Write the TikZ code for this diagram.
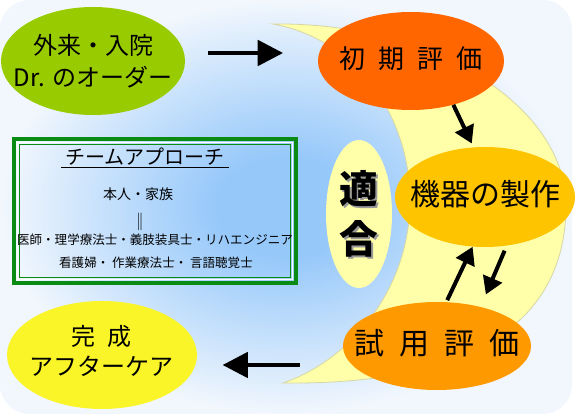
\documentclass[tikz,border=0pt]{standalone}
\usepackage{fontspec}
\setmainfont{Noto Sans CJK JP}
\usepackage{tikz}
\usetikzlibrary{shapes.geometric,arrows.meta,calc}

\definecolor{bgin}{RGB}{150,200,250}
\definecolor{bgout}{RGB}{242,247,253}
\definecolor{moonfill}{RGB}{255,255,170}
\definecolor{moonline}{RGB}{215,215,165}
\definecolor{leafgreen}{RGB}{153,204,0}
\definecolor{redorange}{RGB}{255,102,0}
\definecolor{gold}{RGB}{255,196,0}
\definecolor{deeporange}{RGB}{255,153,0}
\definecolor{lemon}{RGB}{250,245,40}
\definecolor{teamgreen}{RGB}{10,140,20}

\pgfdeclareradialshading{bgglow}{\pgfpoint{0bp}{0bp}}{color(0bp)=(bgin); color(6bp)=(bgin); color(25bp)=(bgout); color(50bp)=(bgout)}

\begin{document}
\begin{tikzpicture}[x=0.75pt,y=-0.75pt,
    oval/.style={ellipse, inner sep=0pt},
    bigarrow/.style={line width=3pt, -{Triangle[length=19pt,width=19pt]}},
    smallarrow/.style={line width=3pt, -{Triangle[length=13pt,width=15pt]}}]
    \useasboundingbox (0,0) rectangle (579,416);
    \fill[white] (0,0) rectangle (579,416);
    \shade[shading=bgglow, rounded corners=22pt] (0,0) rectangle (572,414);

    % crescent
    \filldraw[fill=moonfill, draw=moonline, line width=0.6pt] (273,24)
        .. controls (440,22) and (566,110) .. (566,205)
        .. controls (566,330) and (460,385) .. (283,383)
        .. controls (350,360) and (410,290) .. (410,200)
        .. controls (410,120) and (360,40) .. cycle;

    \node[oval, fill=leafgreen, minimum width=138pt, minimum height=81pt] (gairai) at (93,61) {};
    \node[oval, fill=redorange, minimum width=139.5pt, minimum height=73.5pt] (shoki) at (411,61) {};
    \node[oval, fill=gold, minimum width=135pt, minimum height=75pt] (kiki) at (485,197) {};
    \node[oval, fill=deeporange, minimum width=141pt, minimum height=66pt] (shiyou) at (437,346) {};
    \node[oval, fill=lemon, minimum width=142.5pt, minimum height=81pt] (kansei) at (102,355) {};
    \node[oval, fill=moonfill, minimum width=49.5pt, minimum height=111pt] (tekigou) at (359,214) {};

    \node[align=center, font=\fontsize{18pt}{24pt}\selectfont] (gairaitext) at (gairai.center) {外来・入院\\Dr. のオーダー};
    \node[font=\fontsize{19.5pt}{24pt}\selectfont] (shokitext) at ([yshift=2pt]shoki.center) {初\enspace 期\enspace 評\enspace 価};
    \node[font=\fontsize{22.5pt}{26pt}\selectfont] (kikitext) at ([yshift=2pt]kiki.center) {機器の製作};
    \node[font=\fontsize{22.5pt}{26pt}\selectfont] (shiyoutext) at ([yshift=2pt]shiyou.center) {試\enspace 用\enspace 評\enspace 価};
    \node[align=center, font=\fontsize{18pt}{22pt}\selectfont] (kanseitext) at ([yshift=3pt]kansei.center) {完\enspace 成\\アフターケア};

    % tekigou with shadowed text
    \node[align=center, text=black!40, font=\fontsize{29pt}{38pt}\selectfont\bfseries]
        (tekishadow) at ([shift={(1.5pt,-1.5pt)}]tekigou.center) {適\\合};
    \node[align=center, font=\fontsize{29pt}{38pt}\selectfont\bfseries] (tekitext) at (tekigou.center) {適\\合};

    % team box
    \draw[teamgreen, line width=2.6pt] (14,139) rectangle (296,283);
    \draw[white, line width=1.1pt] (17.5,142.5) rectangle (292.5,279.5);
    \draw[teamgreen, line width=1.1pt] (19.5,144.5) rectangle (290.5,277.5);

    \node[inner xsep=3pt, inner ysep=1pt, font=\fontsize{15pt}{18pt}\selectfont] (title) at (145,157) {チームアプローチ};
    \draw[line width=0.9pt] (title.south west) -- (title.south east);
    \node[font=\fontsize{10.5pt}{12pt}\selectfont] (honin) at (138,194) {本人・家族};
    \node[font=\fontsize{13pt}{14pt}\selectfont] (equal) at (140,222) {‖};
    \node[font=\fontsize{9.4pt}{11pt}\selectfont] (staff1) at (155,240) {医師・理学療法士・義肢装具士・リハエンジニア};
    \node[font=\fontsize{9.4pt}{11pt}\selectfont] (staff2) at (156,263) {看護婦・ 作業療法士・ 言語聴覚士};

    % arrows
    \draw[bigarrow, shorten <=17pt, shorten >=26pt] ([yshift=6pt]gairai.east) -- ([yshift=6pt]shoki.west);
    \draw[smallarrow, shorten >=3pt] (shoki.-46) -- (kiki.103.5);
    \draw[smallarrow, shorten <=4pt, shorten >=10pt] (kiki.-66.5) -- (shiyou.42);
    \draw[smallarrow, shorten <=1.5pt] (shiyou.78) -- (kiki.-104.6);
    \draw[bigarrow, shorten <=32pt, shorten >=19pt] ([yshift=-14.25pt]shiyou.west) -- ([yshift=-7.5pt]kansei.east);
\end{tikzpicture}
\end{document}
